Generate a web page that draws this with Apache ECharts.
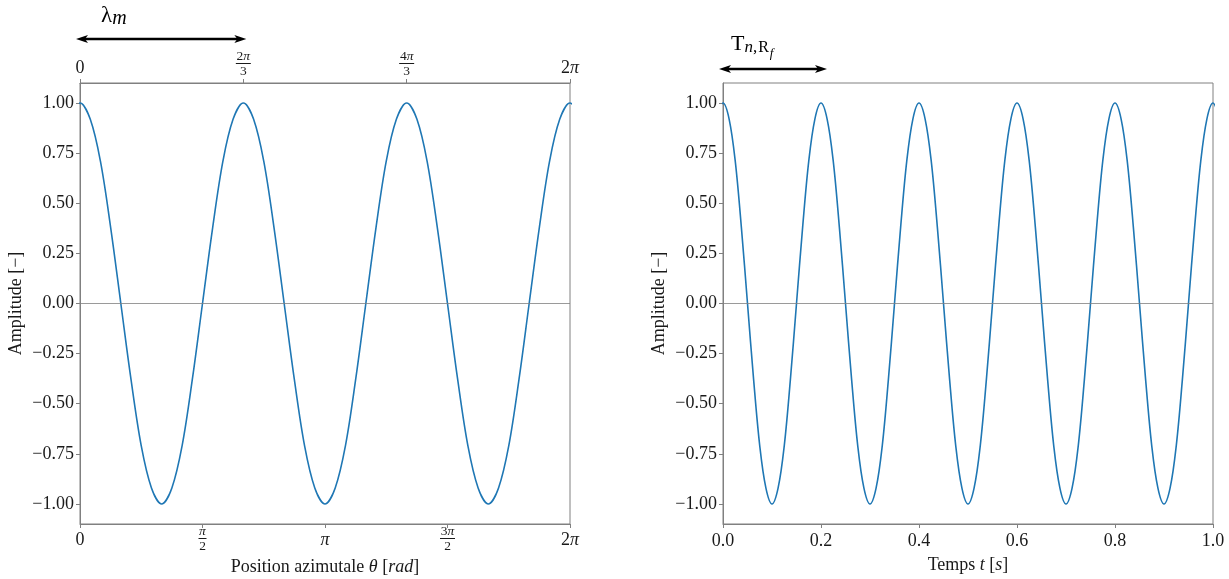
<!DOCTYPE html>
<html><head><meta charset="utf-8">
<script src="https://cdn.jsdelivr.net/npm/echarts@6/dist/echarts.min.js"></script>
<style>html,body{margin:0;padding:0;background:#fff}#c{width:1229px;height:579px}</style>
</head><body><div id="c"></div>
<script>
// ---- data ----
// azimuthal position in degrees (0 .. 360 = 0 .. 2π); one sample on each side lies outside the axis range (clipped)
const thetaDeg = [-7.5,0,7.5,15,22.5,30,37.5,45,52.5,60,67.5,75,82.5,90,97.5,105,112.5,
  120,127.5,135,142.5,150,157.5,165,172.5,180,187.5,195,202.5,210,217.5,225,232.5,
  240,247.5,255,262.5,270,277.5,285,292.5,300,307.5,315,322.5,330,337.5,345,352.5,360,367.5];
const amplitudeTheta = [0.92,1,0.92,0.71,0.38,0,-0.38,-0.71,-0.92,-1,-0.92,-0.71,-0.38,0,0.38,0.71,0.92,
  1,0.92,0.71,0.38,0,-0.38,-0.71,-0.92,-1,-0.92,-0.71,-0.38,0,0.38,0.71,0.92,
  1,0.92,0.71,0.38,0,-0.38,-0.71,-0.92,-1,-0.92,-0.71,-0.38,0,0.38,0.71,0.92,1,0.92];
const timeS = [-0.0125,0,0.0125,0.025,0.0375,0.05,0.0625,0.075,0.0875,0.1,0.1125,0.125,0.1375,0.15,0.1625,0.175,0.1875,
  0.2,0.2125,0.225,0.2375,0.25,0.2625,0.275,0.2875,0.3,0.3125,0.325,0.3375,0.35,0.3625,0.375,0.3875,
  0.4,0.4125,0.425,0.4375,0.45,0.4625,0.475,0.4875,0.5,0.5125,0.525,0.5375,0.55,0.5625,0.575,0.5875,
  0.6,0.6125,0.625,0.6375,0.65,0.6625,0.675,0.6875,0.7,0.7125,0.725,0.7375,0.75,0.7625,0.775,0.7875,
  0.8,0.8125,0.825,0.8375,0.85,0.8625,0.875,0.8875,0.9,0.9125,0.925,0.9375,0.95,0.9625,0.975,0.9875,1.0,1.0125];
const amplitudeTime = [0.92,1,0.92,0.71,0.38,0,-0.38,-0.71,-0.92,-1,-0.92,-0.71,-0.38,0,0.38,0.71,0.92,
  1,0.92,0.71,0.38,0,-0.38,-0.71,-0.92,-1,-0.92,-0.71,-0.38,0,0.38,0.71,0.92,
  1,0.92,0.71,0.38,0,-0.38,-0.71,-0.92,-1,-0.92,-0.71,-0.38,0,0.38,0.71,0.92,
  1,0.92,0.71,0.38,0,-0.38,-0.71,-0.92,-1,-0.92,-0.71,-0.38,0,0.38,0.71,0.92,
  1,0.92,0.71,0.38,0,-0.38,-0.71,-0.92,-1,-0.92,-0.71,-0.38,0,0.38,0.71,0.92,1,0.92];
const yTicks = [-1,-0.75,-0.5,-0.25,0,0.25,0.5,0.75,1];
const thetaBottomTicks = [0,90,180,270,360];
const thetaBottomLabels = [['0'],['π','2'],['π'],['3π','2'],['2π']];
const thetaTopTicks = [0,120,240,360];
const thetaTopLabels = [['0'],['2π','3'],['4π','3'],['2π']];
const timeTicks = [0,0.2,0.4,0.6,0.8,1.0];

// ---- styling ----
const FF = '"Liberation Serif","DejaVu Serif",serif';
const TXT = '#1a1a1a';
const SP = '#808080';
const LINE = '#1f77b4';

function fracRich(padTop){
  const fs = 13.5;
  return {
    r:{fontSize:18,fontFamily:FF,color:TXT,padding:[padTop,0,0,0]},
    rp:{fontSize:18,fontFamily:FF,fontStyle:'italic',color:TXT,padding:[padTop,0,0,0]},
    n:{fontSize:fs,fontFamily:FF,color:TXT,lineHeight:11},
    np:{fontSize:fs,fontFamily:FF,fontStyle:'italic',color:TXT,lineHeight:11},
    d:{fontSize:fs,fontFamily:FF,color:TXT,lineHeight:12},
    b1:{width:8,height:1,fontSize:1,lineHeight:3,backgroundColor:TXT},
    b2:{width:15,height:1,fontSize:1,lineHeight:3,backgroundColor:TXT}
  };
}
// split a string into rich tokens, π set in italic
function toks(s, plain, pi){
  return s.split(/(π)/).filter(x=>x.length).map(x => '{' + (x === 'π' ? pi : plain) + '|' + x + '}').join('');
}
function fracFormatter(ticks, labels){
  return function(v){
    let i = -1;
    ticks.forEach((t,k)=>{ if (Math.abs(t - v) < 1e-6) i = k; });
    if (i < 0) return '';
    const l = labels[i];
    if (l.length === 1) return toks(l[0], 'r', 'rp');
    return toks(l[0], 'n', 'np') + '\n{' + (l[0].length > 1 ? 'b2' : 'b1') + '| }\n{d|' + l[1] + '}';
  };
}
const yFmt = v => (v < 0 ? '\u2212' : '') + Math.abs(v).toFixed(2);

function yAxis(gi){
  return {
    type:'value', gridIndex:gi, min:-1.1, max:1.1,
    name:'Amplitude [\u2212]', nameLocation:'middle', nameGap:55,
    nameTextStyle:{fontFamily:FF,fontSize:18,color:TXT},
    axisLine:{show:true,lineStyle:{color:SP,width:1}},
    axisTick:{show:true,inside:false,length:4,lineStyle:{color:SP},customValues:yTicks},
    axisLabel:{customValues:yTicks,formatter:yFmt,fontFamily:FF,fontSize:18,color:TXT,margin:6},
    splitLine:{show:false}
  };
}

const chart = echarts.init(document.getElementById('c'), null, {renderer:'canvas'});
const gridBase = {top:83, height:441, width:490, show:true, borderColor:SP, borderWidth:1,
  containLabel:false, outerBoundsMode:'none'};

chart.setOption({
  animation:false,
  backgroundColor:'#fff',
  grid:[Object.assign({left:80}, gridBase), Object.assign({left:723}, gridBase)],
  xAxis:[
    {type:'value', gridIndex:0, min:0, max:360, interval:90, position:'bottom',
     name:'{r|Position azimutale }{i|θ}{r| [}{i|rad}{r|]}', nameLocation:'middle', nameGap:32,
     nameTextStyle:{rich:{r:{fontFamily:FF,fontSize:18,color:TXT},i:{fontFamily:FF,fontSize:18,fontStyle:'italic',color:TXT}}},
     axisLine:{show:true,onZero:false,lineStyle:{color:SP}},
     axisTick:{show:true,inside:false,length:4,lineStyle:{color:SP}},
     axisLabel:{formatter:fracFormatter(thetaBottomTicks,thetaBottomLabels),rich:fracRich(5),margin:2,hideOverlap:false},
     splitLine:{show:false}},
    {type:'value', gridIndex:0, min:0, max:360, interval:120, position:'top',
     axisLine:{show:true,onZero:false,lineStyle:{color:SP}},
     axisTick:{show:true,inside:false,length:4,lineStyle:{color:SP}},
     axisLabel:{formatter:fracFormatter(thetaTopTicks,thetaTopLabels),rich:fracRich(0),margin:6,hideOverlap:false},
     splitLine:{show:false}},
    {type:'value', gridIndex:1, min:0, max:1, interval:0.2, position:'bottom',
     name:'{r|Temps }{i|t}{r| [}{i|s}{r|]}', nameLocation:'middle', nameGap:32,
     nameTextStyle:{rich:{r:{fontFamily:FF,fontSize:18,color:TXT},i:{fontFamily:FF,fontSize:18,fontStyle:'italic',color:TXT}}},
     axisLine:{show:true,onZero:false,lineStyle:{color:SP}},
     axisTick:{show:true,inside:false,length:4,lineStyle:{color:SP}},
     axisLabel:{formatter:v=>v.toFixed(1),fontFamily:FF,fontSize:18,color:TXT,margin:8},
     splitLine:{show:false}}
  ],
  yAxis:[yAxis(0), yAxis(1)],
  series:[
    {type:'line', xAxisIndex:0, yAxisIndex:0, smooth:0.35, showSymbol:false, silent:true, clip:true,
     data:thetaDeg.map((x,i)=>[x,amplitudeTheta[i]]),
     lineStyle:{color:LINE,width:1.6},
     markLine:{silent:true,symbol:'none',label:{show:false},lineStyle:{color:SP,width:0.8,type:'solid'},data:[{yAxis:0}]}},
    {type:'line', xAxisIndex:2, yAxisIndex:1, smooth:0.35, showSymbol:false, silent:true, clip:true,
     data:timeS.map((x,i)=>[x,amplitudeTime[i]]),
     lineStyle:{color:LINE,width:1.6},
     markLine:{silent:true,symbol:'none',label:{show:false},lineStyle:{color:SP,width:0.8,type:'solid'},data:[{yAxis:0}]}}
  ]
});

// ---- annotations (arrows spanning one wavelength / period) ----
function arrow(x1,x2,y){
  const h=12, w=4;
  return [
    {type:'line',shape:{x1:x1+6,y1:y,x2:x2-6,y2:y},style:{stroke:'#000',lineWidth:2.4}},
    {type:'polygon',shape:{points:[[x1,y],[x1+h,y-w],[x1+h-3,y],[x1+h,y+w]]},style:{fill:'#000'}},
    {type:'polygon',shape:{points:[[x2,y],[x2-h,y-w],[x2-h+3,y],[x2-h,y+w]]},style:{fill:'#000'}}
  ];
}
const a0 = chart.convertToPixel({xAxisIndex:0}, 0);
const a1 = chart.convertToPixel({xAxisIndex:0}, 120);
const b0 = chart.convertToPixel({xAxisIndex:2}, 0);
const b1 = chart.convertToPixel({xAxisIndex:2}, 0.2);
const g = [].concat(
  arrow(a0-4, a1+3, 39),
  arrow(b0-4, b1+6, 69),
  [
    {type:'text', x:a0+21, y:16, style:{text:'{a|λ}{s|m}', textVerticalAlign:'middle', textAlign:'left',
      rich:{a:{fontSize:23,fontFamily:FF,color:'#000'},s:{fontSize:20,fontFamily:FF,fontStyle:'italic',color:'#000',padding:[6,0,0,0]}}}},
    {type:'text', x:b0+8, y:44, style:{text:'{a|T}{s|n}{c|,}{r|R}{f|f}', textVerticalAlign:'middle', textAlign:'left',
      rich:{a:{fontSize:22,fontFamily:FF,color:'#000'},
            s:{fontSize:17,fontFamily:FF,fontStyle:'italic',color:'#000',padding:[8,0,0,0]},
            c:{fontSize:17,fontFamily:FF,color:'#000',padding:[8,1,0,0]},
            r:{fontSize:16,fontFamily:FF,color:'#000',padding:[8,0,0,0]},
            f:{fontSize:13,fontFamily:FF,fontStyle:'italic',color:'#000',padding:[20,0,0,1]}}}}
  ]
);
chart.setOption({graphic:g});
</script>
</body></html>
